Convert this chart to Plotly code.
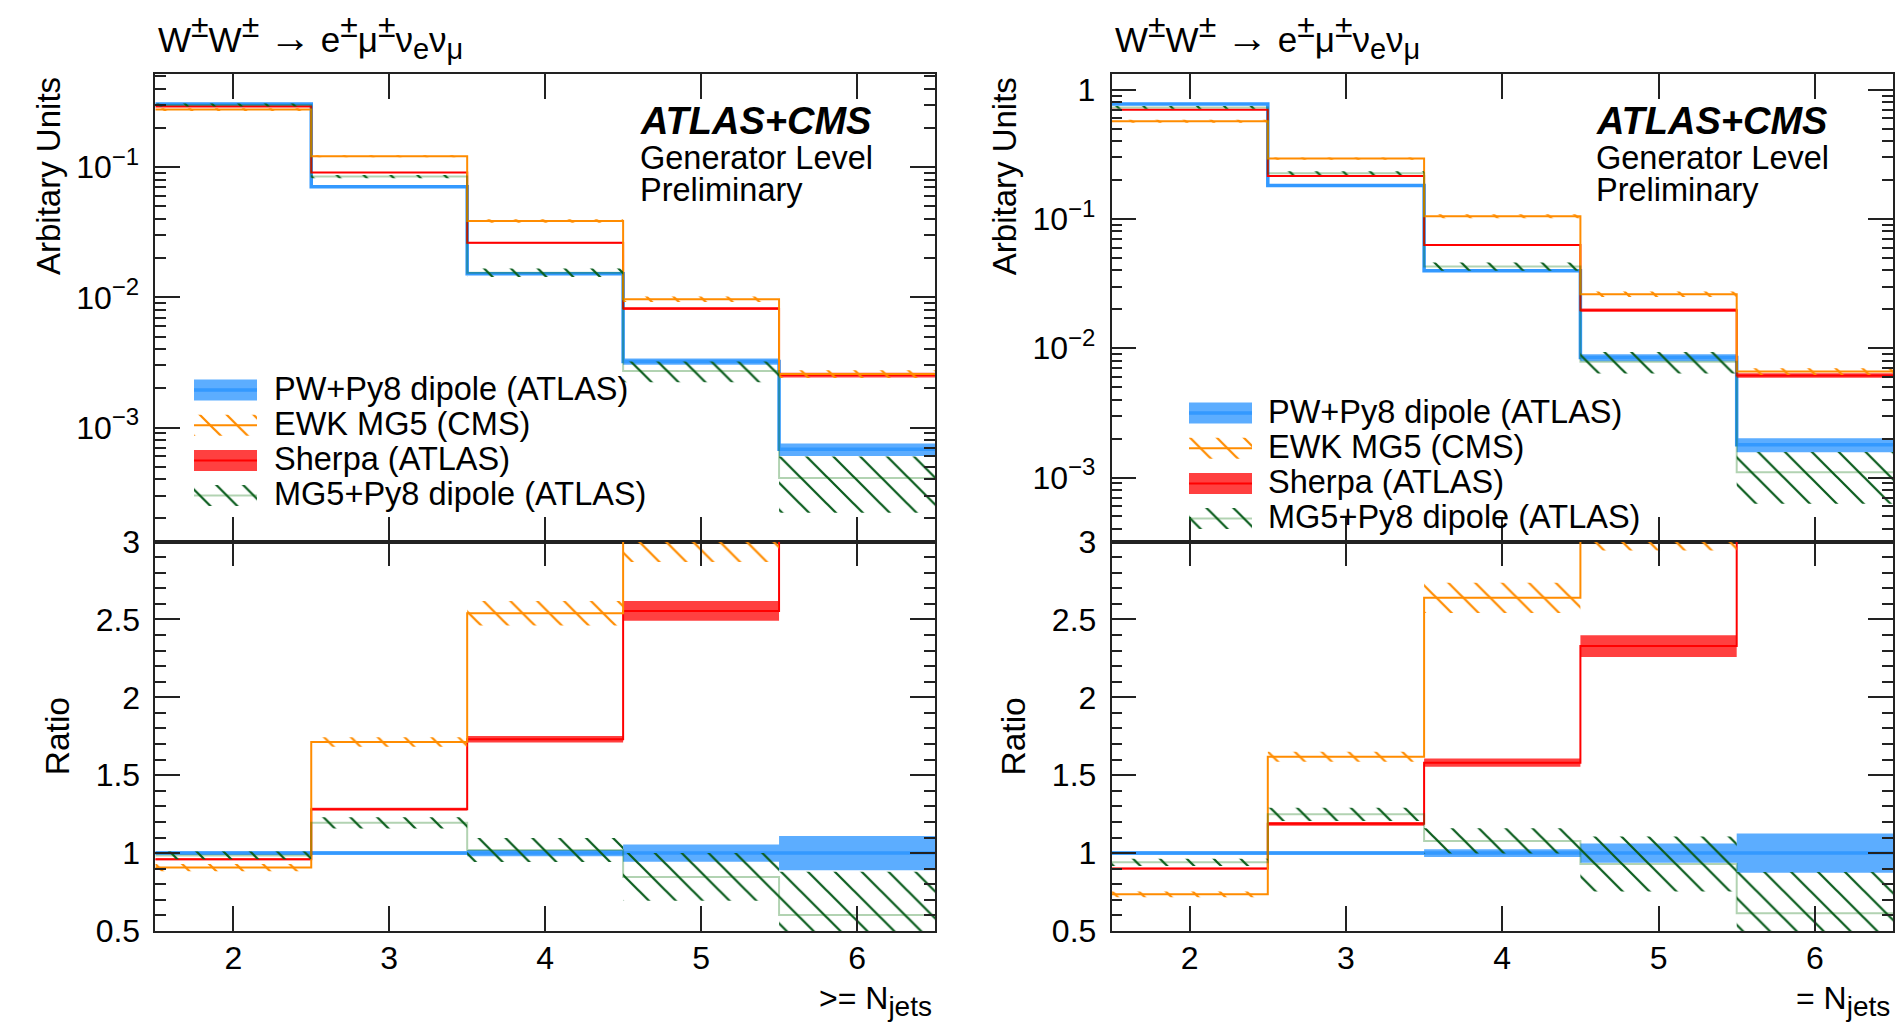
import plotly.graph_objects as go

W, H = 1895, 1022
FONT = "Liberation Sans, Arial, Helvetica, sans-serif"

# ---------------- data ----------------
edges = [1.5, 2.5, 3.5, 4.5, 5.5, 6.5]
njets = [2, 3, 4, 5, 6]
njets_labels = ["2", "3", "4", "5", "6"]

# Left: >= N_jets (normalised, arbitrary units)
L_pw = [0.306, 0.0710, 0.0152, 0.00321, 0.00068]
L_ewk = [0.2775, 0.1216, 0.0386, 0.00969, 0.00258]
L_sherpa = [0.2938, 0.0910, 0.0263, 0.00820, 0.00253]
L_mg5 = [0.3014, 0.0848, 0.0155, 0.00272, 0.00041]
# relative uncertainties
L_pw_err = [0.01, 0.01, 0.02, 0.055, 0.11]
L_ewk_err = [0.025, 0.018, 0.031, 0.05, 0.07]
L_sherpa_err = [0.006, 0.007, 0.012, 0.025, 0.04]
L_mg5_err = [0.025, 0.03, 0.075, 0.18, 0.46]

# Right: = N_jets
R_pw = [0.775, 0.181, 0.0398, 0.00846, 0.00179]
R_ewk = [0.570, 0.293, 0.105, 0.0262, 0.0066]
R_sherpa = [0.698, 0.215, 0.0629, 0.0197, 0.00616]
R_mg5 = [0.729, 0.226, 0.0429, 0.00787, 0.0011]
R_pw_err = [0.01, 0.01, 0.025, 0.062, 0.126]
R_ewk_err = [0.025, 0.02, 0.037, 0.05, 0.06]
R_sherpa_err = [0.006, 0.01, 0.017, 0.03, 0.04]
R_mg5_err = [0.025, 0.034, 0.075, 0.19, 0.43]

legend_names = ["PW+Py8 dipole (ATLAS)", "EWK MG5 (CMS)", "Sherpa (ATLAS)", "MG5+Py8 dipole (ATLAS)"]

# ---------------- styles ----------------
STY = {
    "pw": dict(line="#3399ff", width=3.5, fill="rgba(51,153,255,0.8)", hatch=None),
    "ewk": dict(line="#ff8c00", width=2, fill=None, hatch="#ff8c00"),
    "sherpa": dict(line="#ff0000", width=2, fill="rgba(255,0,0,0.75)", hatch=None),
    "mg5": dict(line="rgba(0,110,0,0.3)", width=2, fill=None, hatch="#0b5d1e"),
}
legend_keys = ["pw", "ewk", "sherpa", "mg5"]
draw_order = ["pw", "sherpa", "ewk", "mg5"]

# ---------------- geometry (pixels) ----------------
LX = (155.3, 935.0)
RX = (1111.5, 1893.0)
TOP, SPLIT, BOT = 74.0, 541.5, 931.0


def fx(p):
    return p / W


def fy(p):
    return 1 - p / H


fig = go.Figure()


def band_xy(lo, hi):
    xs, ys = [], []
    for i in range(len(lo)):
        x0, x1 = edges[i], edges[i + 1]
        xs += [x0, x1, x1, x0, x0, None]
        ys += [lo[i], lo[i], hi[i], hi[i], lo[i], None]
    return xs, ys


def fill_kwargs(st):
    if st["hatch"]:
        return dict(fill="toself", fillcolor="rgba(0,0,0,0)",
                    fillpattern=dict(shape="\\", fgcolor=st["hatch"], bgcolor="rgba(0,0,0,0)",
                                     size=19, solidity=0.12, fillmode="replace"))
    return dict(fill="toself", fillcolor=st["fill"])


def add_hist(vals, errs, xa, ya, st):
    lo = [v * (1 - e) for v, e in zip(vals, errs)]
    hi = [v * (1 + e) for v, e in zip(vals, errs)]
    bx, by = band_xy(lo, hi)
    fig.add_trace(go.Scatter(x=bx, y=by, mode="lines", line=dict(width=0), xaxis=xa, yaxis=ya,
                             showlegend=False, hoverinfo="skip", **fill_kwargs(st)))
    fig.add_trace(go.Scatter(x=edges, y=list(vals) + [vals[-1]], mode="lines", line_shape="hv",
                             line=dict(color=st["line"], width=st["width"]), xaxis=xa, yaxis=ya,
                             showlegend=False, hoverinfo="skip"))


panels = [
    dict(vals=dict(pw=L_pw, ewk=L_ewk, sherpa=L_sherpa, mg5=L_mg5),
         errs=dict(pw=L_pw_err, ewk=L_ewk_err, sherpa=L_sherpa_err, mg5=L_mg5_err),
         up=("x", "y"), lo=("x2", "y2")),
    dict(vals=dict(pw=R_pw, ewk=R_ewk, sherpa=R_sherpa, mg5=R_mg5),
         errs=dict(pw=R_pw_err, ewk=R_ewk_err, sherpa=R_sherpa_err, mg5=R_mg5_err),
         up=("x3", "y3"), lo=("x4", "y4")),
]

for p in panels:
    den = p["vals"]["pw"]
    for k in draw_order:
        v = p["vals"][k]
        e = p["errs"][k]
        add_hist(v, e, p["up"][0], p["up"][1], STY[k])
        ratio = [a / b for a, b in zip(v, den)]
        add_hist(ratio, e, p["lo"][0], p["lo"][1], STY[k])

# ---------------- legend swatches (pixel overlay axis) ----------------
legends = [dict(sx=194, tx=272, y0=390, dy=35.2), dict(sx=1189, tx=1266, y0=413, dy=35.2)]
SW, SH = 63, 21
annotations = []
for lg in legends:
    for i, k in enumerate(legend_keys):
        st = STY[k]
        yc = lg["y0"] + i * lg["dy"]
        x0, x1 = lg["sx"], lg["sx"] + SW
        fig.add_trace(go.Scatter(x=[x0, x1, x1, x0, x0], y=[yc - SH / 2, yc - SH / 2, yc + SH / 2, yc + SH / 2, yc - SH / 2],
                                 mode="lines", line=dict(width=0), xaxis="x5", yaxis="y5",
                                 showlegend=False, hoverinfo="skip", **fill_kwargs(st)))
        fig.add_trace(go.Scatter(x=[x0, x1], y=[yc, yc], mode="lines",
                                 line=dict(color=st["line"], width=st["width"]), xaxis="x5", yaxis="y5",
                                 showlegend=False, hoverinfo="skip"))
        annotations.append(dict(x=fx(lg["tx"]), y=fy(yc - 1.5), xref="paper", yref="paper", text=legend_names[i],
                                showarrow=False, xanchor="left", yanchor="middle",
                                font=dict(family=FONT, size=32.5, color="black")))

# ---------------- axes ----------------
tick_common = dict(showline=True, linecolor="#222", linewidth=1.5, mirror="ticks", ticks="inside",
                   tickcolor="#222", tickwidth=1.5, showgrid=False, zeroline=False, automargin=False,
                   tickfont=dict(family=FONT, size=32, color="black"))

minor_log = [k * 10 ** n for n in range(-4, 1) for k in range(2, 10)]
minor_ratio = [round(0.5 + 0.1 * i, 2) for i in range(26) if round((0.5 + 0.1 * i) * 2, 6) % 1 != 0]


def xaxis_cfg(xr, labels):
    d = dict(tick_common)
    d.update(domain=[fx(xr[0]), fx(xr[1])], range=[1.5, 6.5], tickvals=njets, ticktext=njets_labels,
             ticklen=25, showticklabels=labels, ticklabelstandoff=-2)
    return d


def ylog_cfg(rng, tv, tt):
    d = dict(tick_common)
    d.update(type="log", domain=[fy(SPLIT), fy(TOP)], range=rng, tickvals=tv, ticktext=tt, ticklen=25,
             ticklabelstandoff=8,
             minor=dict(tickvals=minor_log, ticks="inside", ticklen=11, tickcolor="#222", tickwidth=1.5))
    return d


def yratio_cfg():
    d = dict(tick_common)
    d.update(domain=[fy(BOT), fy(SPLIT)], range=[0.5, 3.0], tickvals=[0.5, 1, 1.5, 2, 2.5, 3],
             ticktext=["0.5", "1", "1.5", "2", "2.5", "3"], ticklen=25, ticklabelstandoff=7,
             minor=dict(tickvals=minor_ratio, ticks="inside", ticklen=11, tickcolor="#222", tickwidth=1.5))
    return d


def sup(n):
    return '10<sup><span style="font-size:24px">\u2212%d</span></sup>' % n


layout_axes = dict(
    xaxis=dict(xaxis_cfg(LX, False), anchor="y"),
    yaxis=dict(ylog_cfg([-3.876, -0.283], [1e-3, 1e-2, 1e-1], [sup(3), sup(2), sup(1)]), anchor="x"),
    xaxis2=dict(xaxis_cfg(LX, True), anchor="y2"),
    yaxis2=dict(yratio_cfg(), anchor="x2"),
    xaxis3=dict(xaxis_cfg(RX, False), anchor="y3"),
    yaxis3=dict(ylog_cfg([-3.495, 0.121], [1e-3, 1e-2, 1e-1, 1], [sup(3), sup(2), sup(1), "1"]), anchor="x3"),
    xaxis4=dict(xaxis_cfg(RX, True), anchor="y4"),
    yaxis4=dict(yratio_cfg(), anchor="x4"),
    xaxis5=dict(domain=[0, 1], range=[0, W], visible=False, anchor="y5", automargin=False),
    yaxis5=dict(domain=[0, 1], range=[H, 0], visible=False, anchor="x5", automargin=False),
)

# ---------------- text ----------------
SP = '<sup><span style="font-size:32px">\u00b1</span></sup>'
ARROW = '<span style="font-size:42px">\u2192</span>'
title_txt = ("W" + SP + "W" + SP + " " + ARROW + " e" + SP + "\u03bc" + SP + "\u03bd"
             + '<sub><span style="font-size:29px">e</span></sub>\u03bd'
             + '<sub><span style="font-size:29px">\u03bc</span></sub>')
JETS = '<sub><span style="font-size:28px">jets</span></sub>'


def txt(x, y, text, size=31, xanchor="left", yanchor="middle", angle=0):
    annotations.append(dict(x=fx(x), y=fy(y), xref="paper", yref="paper", text=text, showarrow=False,
                            xanchor=xanchor, yanchor=yanchor, textangle=angle,
                            font=dict(family=FONT, size=size, color="black")))


for (xl, xr), xlab in [(LX, "&gt;= N" + JETS), (RX, "= N" + JETS)]:
    off = xl - LX[0]
    txt(xl + 1, 36, title_txt, size=35)
    txt(48 + off, 75, "Arbitary Units", size=33, xanchor="center", yanchor="top", angle=-90)
    txt(57 + off, (SPLIT + BOT) / 2, "Ratio", size=33.5, xanchor="center", yanchor="middle", angle=-90)
    txt(638 + off, 121, "<b><i>ATLAS+CMS</i></b>", size=38)
    txt(638 + off, 158, "Generator Level", size=32.5)
    txt(638 + off, 190, "Preliminary", size=32.5)
    txt(xr - 1, 1001, xlab, size=32, xanchor="right")

fig.update_layout(
    width=W, height=H, autosize=False,
    margin=dict(l=0, r=0, t=0, b=0, pad=0),
    paper_bgcolor="white", plot_bgcolor="rgba(0,0,0,0)",
    showlegend=False,
    annotations=annotations,
    **layout_axes,
)

fig.write_html("out.html", config={"displayModeBar": False},
               post_script="document.body.style.margin='0';document.body.style.overflow='hidden';")
